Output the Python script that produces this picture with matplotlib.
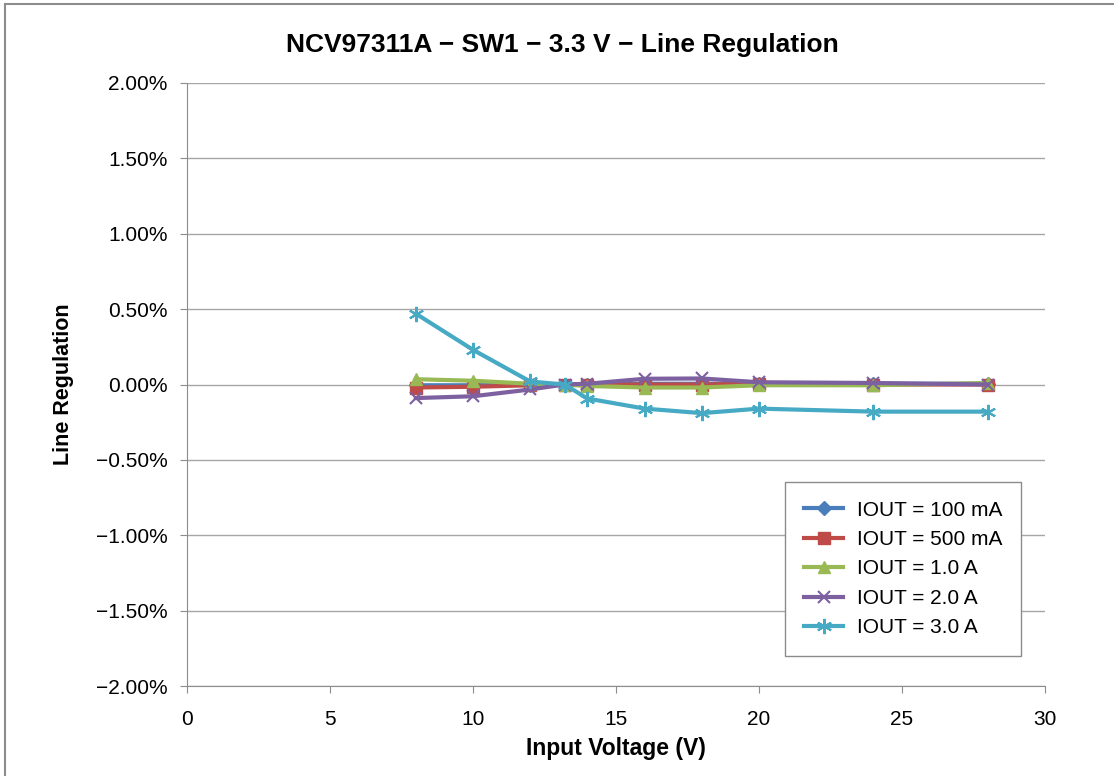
import numpy as np
import matplotlib.pyplot as plt
from matplotlib.lines import Line2D
from matplotlib.ticker import FuncFormatter

plt.rcParams['font.family'] = ['Liberation Sans', 'DejaVu Sans']

# input voltage (V)
vin = [8, 10, 12, 13.2, 14, 16, 18, 20, 24, 28]

# line regulation (%)
reg_100ma = [-0.005, -0.005, 0.0, 0.0, 0.0, 0.005, 0.005, 0.005, 0.005, 0.005]
reg_500ma = [-0.02, -0.015, -0.005, 0.0, 0.0, 0.0, 0.0, 0.005, 0.0, 0.0]
reg_1a = [0.035, 0.025, 0.005, 0.0, -0.01, -0.02, -0.02, -0.005, -0.005, 0.01]
reg_2a = [-0.09, -0.078, -0.033, 0.0, 0.005, 0.038, 0.04, 0.015, 0.01, 0.0]
reg_3a = [0.47, 0.23, 0.02, 0.0, -0.093, -0.16, -0.19, -0.16, -0.18, -0.18]

labels = ["IOUT = 100 mA", "IOUT = 500 mA", "IOUT = 1.0 A", "IOUT = 2.0 A", "IOUT = 3.0 A"]
series = [reg_100ma, reg_500ma, reg_1a, reg_2a, reg_3a]
colors = ['#4a7ebb', '#be4b48', '#98b954', '#7d60a0', '#46aac5']
markers = ['D', 's', '^', 'x', (6, 2, 0)]
msizes = [7, 8, 9, 9, 11]

fig = plt.figure(figsize=(11.14, 7.76), dpi=100)
ax = fig.add_axes([187 / 1114, 1 - 686 / 776, (1045 - 187) / 1114, (686 - 83) / 776])

# outer frame: only the top and left edges are inside the picture
fx, fy = 5 / 1114, 1 - 4 / 776
fig.lines.append(Line2D([fx, fx], [0, fy], transform=fig.transFigure, color='#8c8c8c', linewidth=1.5))
fig.lines.append(Line2D([fx, 1], [fy, fy], transform=fig.transFigure, color='#8c8c8c', linewidth=1.5))

for y, lab, c, m, ms in zip(series, labels, colors, markers, msizes):
    ax.plot(vin, y, color=c, marker=m, markersize=ms, linewidth=3, label=lab,
            markeredgewidth=1.5 if m in ('x', (6, 2, 0)) else 1, markeredgecolor=c)

ax.set_xlim(0, 30)
ax.set_ylim(-2, 2)
ax.set_xticks(np.arange(0, 31, 5))
ax.set_yticks(np.arange(-2, 2.01, 0.5))
ax.yaxis.set_major_formatter(FuncFormatter(lambda v, p: f"{v:.2f}%".replace('-', '\u2212')))

ax.grid(axis='y', color='#a6a6a6', linewidth=1)
ax.set_axisbelow(True)
for s in ['top', 'right']:
    ax.spines[s].set_visible(False)
for s in ['left', 'bottom']:
    ax.spines[s].set_color('#8c8c8c')
ax.tick_params(colors='#8c8c8c', labelcolor='black', labelsize=15, length=5)
ax.tick_params(axis='x', pad=12)
ax.tick_params(axis='y', pad=9)

# chart title is centred on the whole picture, not on the plot area
fig.text(562 / 1114, 1 - 45 / 776, "NCV97311A \u2212 SW1 \u2212 3.3 V \u2212 Line Regulation",
         fontsize=19, fontweight='bold', ha='center', va='center')
ax.set_xlabel("Input Voltage (V)", fontsize=16.5, fontweight='bold', labelpad=6)
ax.set_ylabel("Line Regulation", fontsize=15.5, fontweight='bold', labelpad=16)

leg = ax.legend(loc='lower right', bbox_to_anchor=(834 / 858, 30 / 603), borderaxespad=0, fontsize=15,
                fancybox=False, framealpha=1, edgecolor='#8c8c8c', handlelength=1.9,
                labelspacing=0.5, borderpad=0.9, handletextpad=0.65)
leg.get_frame().set_linewidth(1)

fig.savefig("out.png", dpi=100)
